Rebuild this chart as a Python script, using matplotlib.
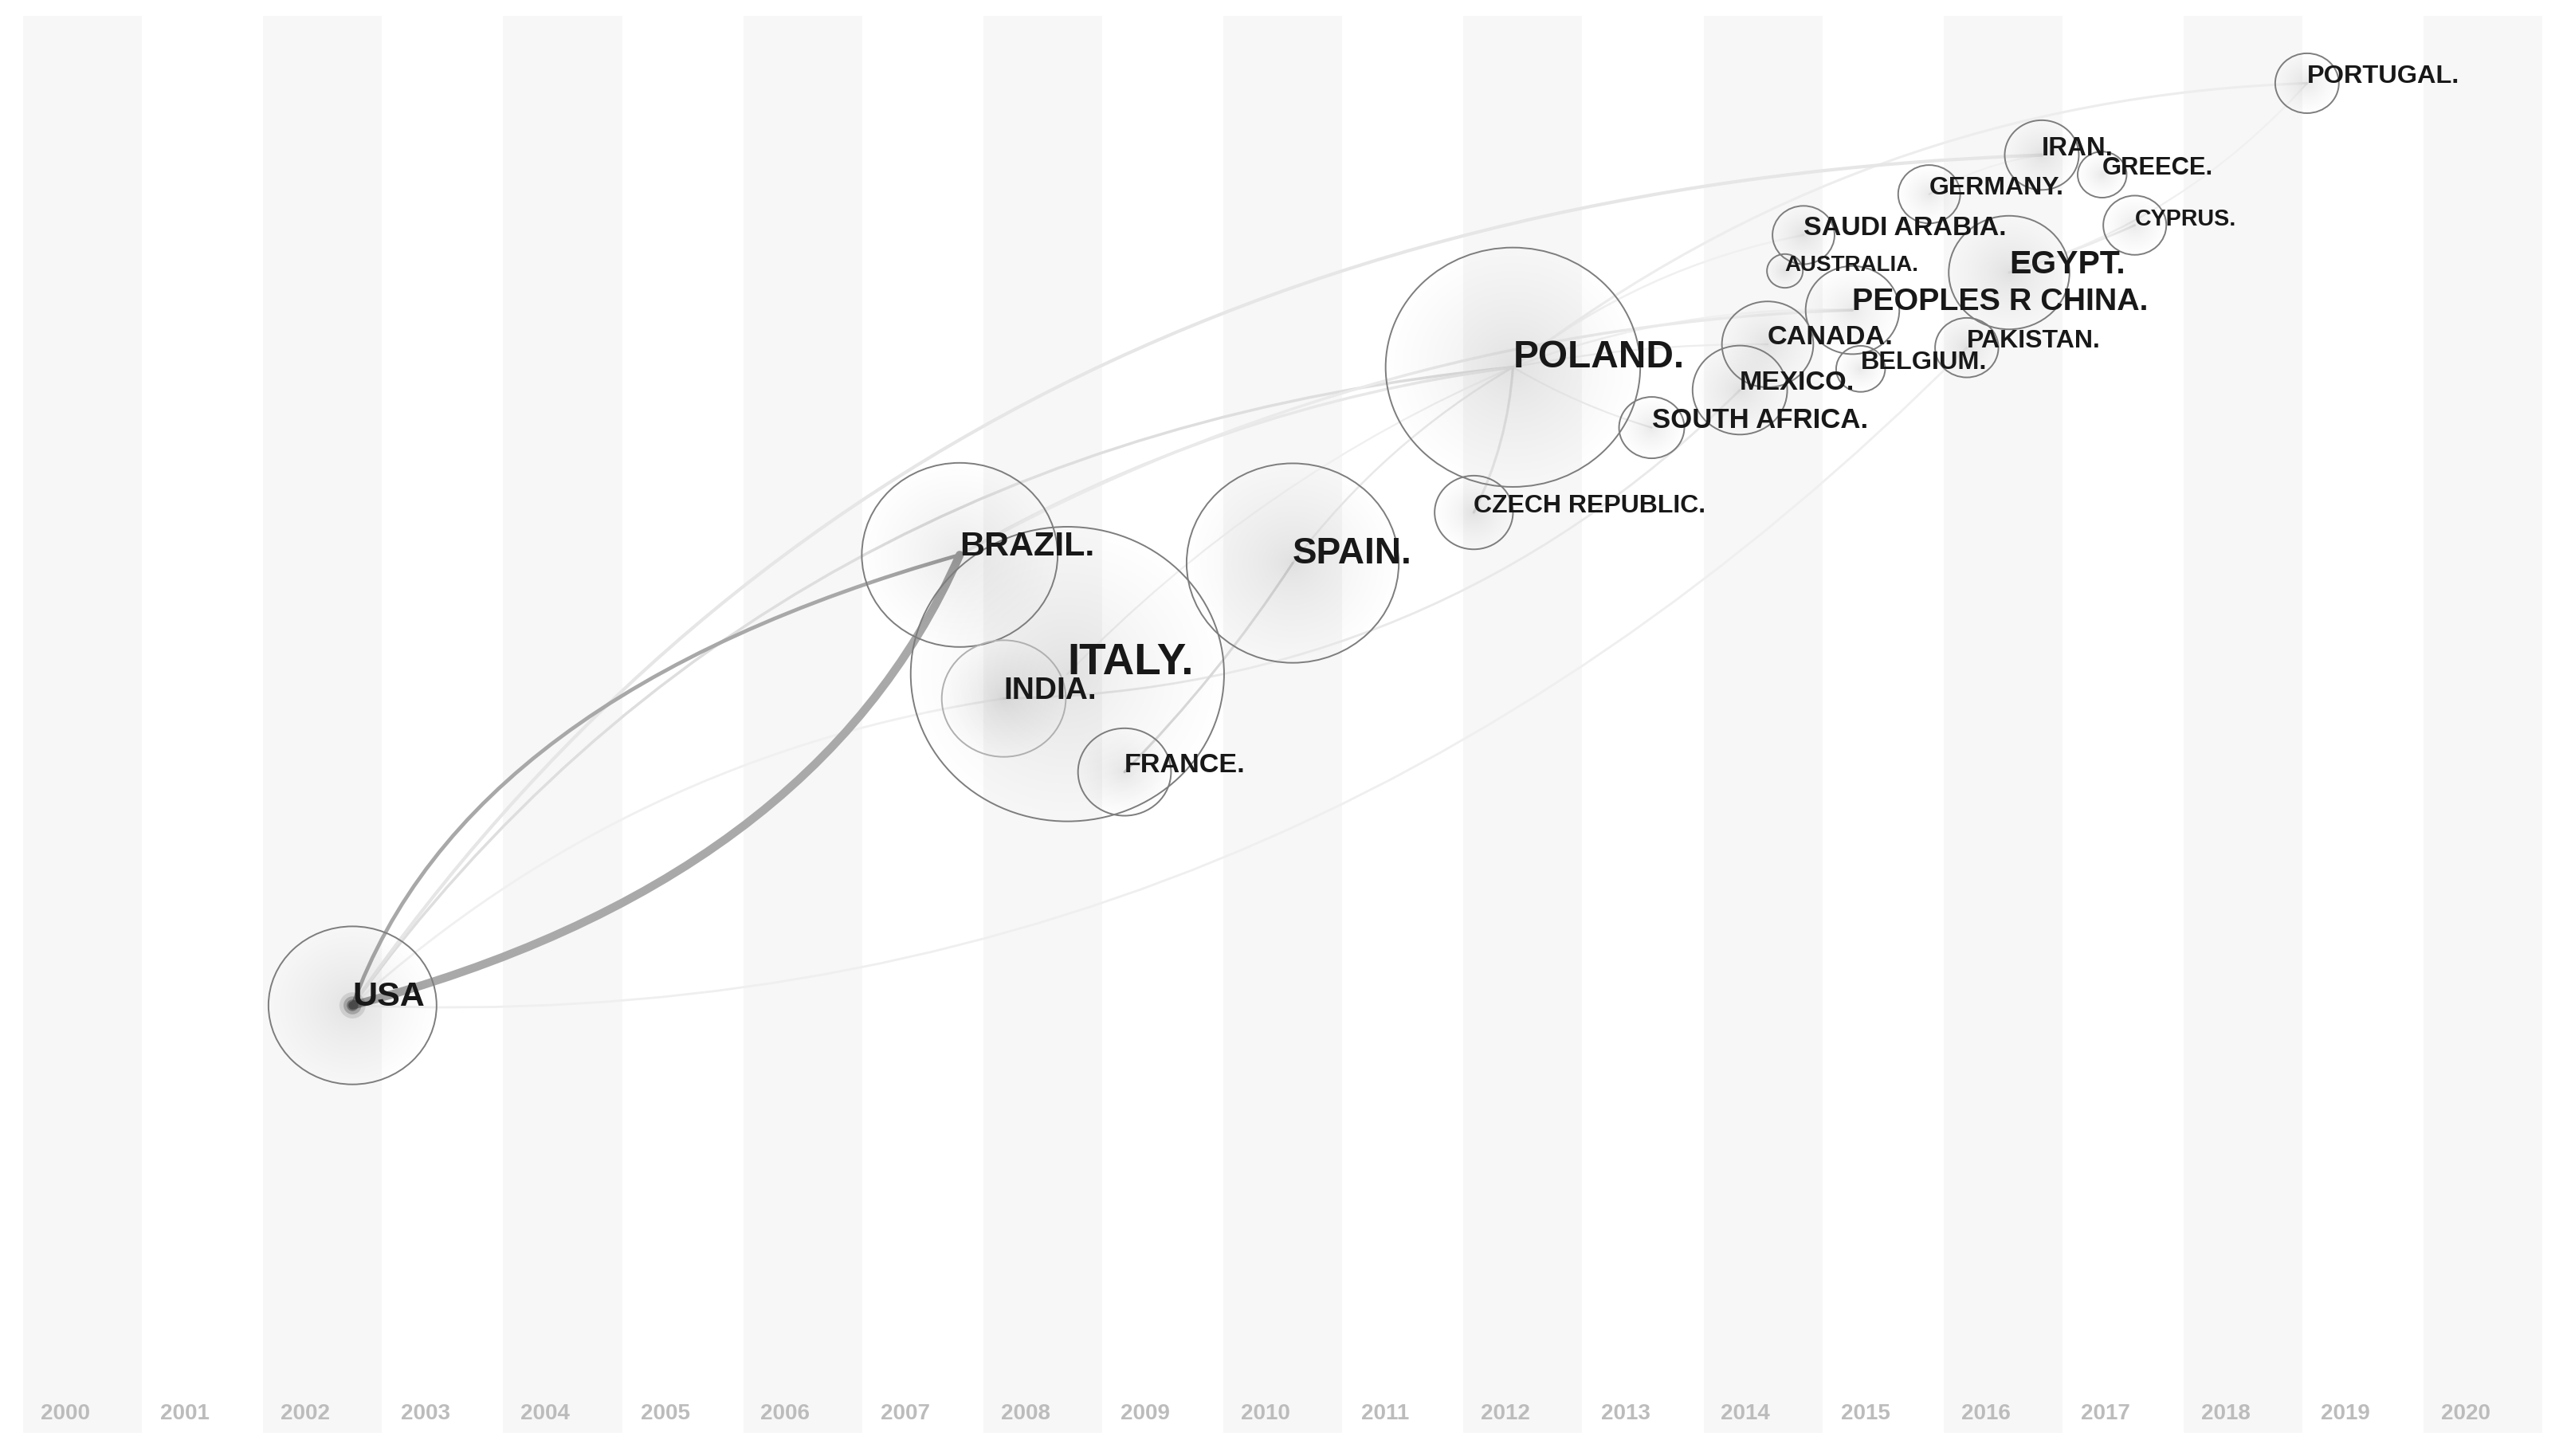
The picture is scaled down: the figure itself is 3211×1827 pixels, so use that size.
import numpy as np
import matplotlib.pyplot as plt
from matplotlib.patches import Ellipse, PathPatch
from matplotlib.path import Path

years = list(range(2000, 2021))

countries = ["USA", "BRAZIL", "ITALY", "INDIA", "FRANCE", "SPAIN", "CZECH REPUBLIC", "POLAND",
             "SOUTH AFRICA", "MEXICO", "CANADA", "BELGIUM", "PEOPLES R CHINA", "EGYPT", "PAKISTAN",
             "AUSTRALIA", "SAUDI ARABIA", "GERMANY", "IRAN", "GREECE", "CYPRUS", "PORTUGAL"]
node_year = [2002.744, 2007.803, 2008.700, 2008.170, 2009.176, 2010.577, 2012.086, 2012.412,
             2013.568, 2014.303, 2014.534, 2015.309, 2015.241, 2016.546, 2016.193,
             2014.678, 2014.833, 2015.880, 2016.818, 2017.321, 2017.593, 2019.028]
node_height = [616, 340, 413, 428, 473, 345, 314, 225,
               262, 239, 211, 226, 190, 167, 213,
               166, 144, 119, 95, 107, 138, 51]
node_radius = [51.5, 60, 96, 38, 28.5, 65, 24, 78,
               20, 29, 28, 15, 28.7, 37, 19.4,
               11, 19, 19, 22.7, 15, 19.3, 19.5]
label_pt = [31, 31, 39.5, 28, 24.6, 33, 23, 34.4,
            25, 24.7, 24.7, 23.3, 28.4, 29.5, 23,
            20, 24.4, 23, 23.8, 22.2, 20.6, 23.4]

edge_from = ["USA", "USA", "USA", "USA", "USA", "USA",
             "INDIA", "BRAZIL", "BRAZIL", "SPAIN", "SPAIN", "POLAND", "POLAND", "ITALY",
             "POLAND", "POLAND", "POLAND", "POLAND", "EGYPT", "GERMANY", "EGYPT"]
edge_to = ["BRAZIL", "BRAZIL", "IRAN", "POLAND", "INDIA", "PAKISTAN",
           "MEXICO", "POLAND", "PEOPLES R CHINA", "FRANCE", "POLAND", "CZECH REPUBLIC", "SOUTH AFRICA", "POLAND",
           "CANADA", "SAUDI ARABIA", "PORTUGAL", "PEOPLES R CHINA", "CYPRUS", "IRAN", "PORTUGAL"]
edge_along = [0.589, 0.365, 0.458, 0.478, 0.5, 0.481,
              0.5, 0.5, 0.5, 0.5, 0.5, 0.5, 0.5, 0.5,
              0.5, 0.5, 0.5, 0.5, 0.5, 0.5, 0.5]
edge_bend = [0.235, -0.242, -0.249, -0.224, -0.15, 0.22,
             0.2, -0.1, -0.12, -0.05, -0.1, -0.1, 0.06, -0.1,
             -0.05, -0.12, -0.16, -0.1, 0.03, -0.1, 0.14]
edge_weight = [7.5, 3.4, 3, 2.5, 2, 2,
               2, 2.5, 2.5, 2.2, 1.8, 2.2, 1.5, 1.6,
               1.6, 1.8, 2.2, 1.8, 2, 1.5, 1.6]
edge_grey = ["#a9a9a9", "#a8a8a8", "#e6e6e6", "#dedede", "#f0f0f0", "#efefef",
             "#e9e9e9", "#e8e8e8", "#eaeaea", "#dadada", "#e8e8e8", "#e2e2e2", "#ededed", "#efefef",
             "#ededed", "#f0f0f0", "#ededed", "#f0f0f0", "#ececec", "#f0f0f0", "#f0f0f0"]

# picture units: one year is this wide, y axis runs in the same kind of unit
UNITS_PER_YEAR = 73.54
FIG_W, FIG_H = 1567.9, 892.1
LEFT = 1999.807
ASPECT = 0.94  # the source image is a little stretched sideways

plt.rcParams['font.family'] = ['Liberation Sans', 'DejaVu Sans']

fig = plt.figure(figsize=(32.11, 18.27), dpi=100)
ax = fig.add_axes([0, 0, 1, 1])
ax.set_xlim(LEFT, LEFT + FIG_W / UNITS_PER_YEAR)
ax.set_ylim(FIG_H, 0)
ax.axis('off')

# year stripes and year labels
for y in years:
    if y % 2 == 0:
        ax.bar(y, 868, width=0.99, bottom=10, align='edge', color='#f7f7f7', linewidth=0, zorder=1)
    ax.text(y + 0.35, 866, str(y), ha='center', va='center', fontsize=20, fontweight='bold',
            color='#bcbcbc', zorder=2)

# edges, drawn faintest first
xpos = dict(zip(countries, node_year))
ypos = dict(zip(countries, node_height))
order = np.argsort(edge_weight)
for i in order:
    x0, y0 = xpos[edge_from[i]] * UNITS_PER_YEAR, ypos[edge_from[i]]
    x1, y1 = xpos[edge_to[i]] * UNITS_PER_YEAR, ypos[edge_to[i]]
    dx, dy = x1 - x0, y1 - y0
    cx = x0 + edge_along[i] * dx - edge_bend[i] * dy
    cy = y0 + edge_along[i] * dy + edge_bend[i] * dx
    verts = [(x0 / UNITS_PER_YEAR, y0), (cx / UNITS_PER_YEAR, cy), (x1 / UNITS_PER_YEAR, y1)]
    path = Path(verts, [Path.MOVETO, Path.CURVE3, Path.CURVE3])
    ax.add_patch(PathPatch(path, fill=False, edgecolor=edge_grey[i], linewidth=edge_weight[i],
                           capstyle='round', zorder=3))

# nodes: soft grey core and a thin outline
for name, x, y, r in zip(countries, node_year, node_height, node_radius):
    for f in np.linspace(1, 0.04, 24):
        rr = r * f ** 1.6
        ax.add_patch(Ellipse((x, y), 2 * rr / UNITS_PER_YEAR, 2 * rr * ASPECT, facecolor='black',
                             edgecolor='none', alpha=0.004, zorder=4))
    ax.add_patch(Ellipse((x, y), 2 * r / UNITS_PER_YEAR, 2 * r * ASPECT, facecolor='none',
                         edgecolor='#b0b0b0' if name == "INDIA" else '#7d7d7d', linewidth=1.4, zorder=5))
    if name == "USA":
        for rr, a in zip([8, 5.5, 3.5], [0.1, 0.2, 0.3]):
            ax.add_patch(Ellipse((x, y), 2 * rr / UNITS_PER_YEAR, 2 * rr, facecolor='black',
                                 edgecolor='none', alpha=a, zorder=4))

# labels start at the node centre
for name, x, y, pt in zip(countries, node_year, node_height, label_pt):
    text = name if name == "USA" else name + "."
    ax.text(x, y - 0.17 * pt, text, ha='left', va='center', fontsize=pt, fontweight='bold',
            color='#181818', zorder=6)

fig.savefig("out.png", dpi=100, facecolor='white')
